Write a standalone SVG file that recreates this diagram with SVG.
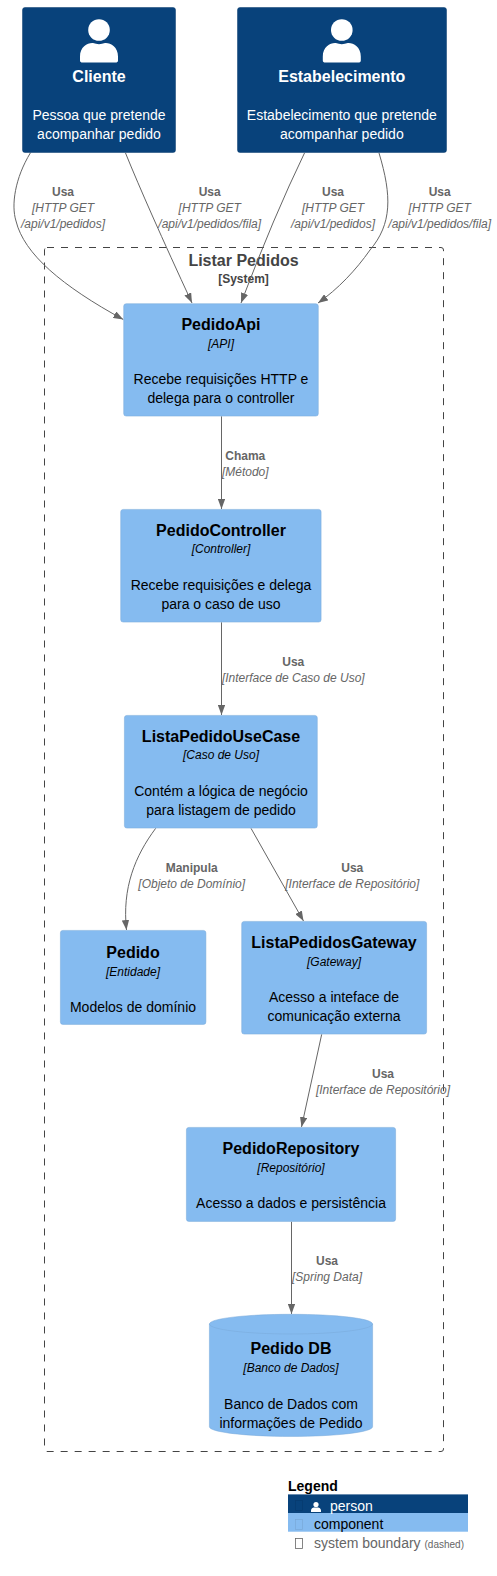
<svg xmlns="http://www.w3.org/2000/svg" width="497" height="1576" viewBox="0 0 497 1576">
<style>
text{font-family:"Liberation Sans",Arial,sans-serif;text-anchor:middle}
.box{fill:#85BBF0;stroke:#78A8D8;stroke-width:.5}
.person{fill:#08427B;stroke:#073B6F;stroke-width:.5}
.n{font-size:16px;font-weight:700;fill:#000}
.t{font-size:12px;font-style:italic;fill:#000}
.d{font-size:14px;fill:#000}
.w{fill:#fff}
.rl{font-size:12px;font-weight:700;fill:#666}
.rt{font-size:12px;font-style:italic;fill:#666}
.c{fill:none;stroke:#666;stroke-width:1;marker-end:url(#arrow)}
.lg{font-size:14px;text-anchor:start}
</style>
<defs>
<marker id="arrow" viewBox="0 0 10 7.4" refX="10" refY="3.7" markerWidth="10" markerHeight="7.4" markerUnits="userSpaceOnUse" orient="auto"><path d="M0 0L10 3.7L0 7.4z" fill="#666"/></marker>
<g id="icon"><circle cx="0" cy="-19.5" r="10.8"/><path d="M-19 11V7C-19-3-11-7-6-6.5C-2-5 2-5 6-6.5C11-7 19-3 19 7V11C19 12.5 18 13 16.5 13H-16.5C-18 13-19 12.5-19 11Z"/></g>
</defs>
<g id="boundary">
<rect x="44.5" y="247.5" width="399" height="1204" rx="2.5" fill="none" stroke="#444" stroke-width="1" stroke-dasharray="7 7"/>
<text x="243.5" y="266" font-size="16" font-weight="700" fill="#444">Listar Pedidos</text>
<text x="243.5" y="283" font-size="12" font-weight="700" fill="#444">[System]</text>
</g>
<g id="connectors">
<path class="c" d="M30.5 152.7C15 178 11 205 16 221C24 254 62 286 123.3 319.5"/>
<path class="c" d="M125.5 153Q147 206 192 303"/>
<path class="c" d="M304.5 153Q274 216 241 303"/>
<path class="c" d="M379 153C392 196 392 224 370 250C356 270 338 289 318 303"/>
<path class="c" d="M221.5 416.3V509"/>
<path class="c" d="M221.5 622.3V715"/>
<path class="c" d="M155.7 828.3C135 856 122 888 126.5 930"/>
<path class="c" d="M251 828.3L303.5 921"/>
<path class="c" d="M321.7 1034.3L301.5 1127"/>
<path class="c" d="M291.5 1221.7V1314"/>
</g>
<g id="rel-labels">
<text class="rl" x="63" y="195.7">Usa</text><text class="rt" x="63" y="211.7">[HTTP GET</text><text class="rt" x="63" y="227.7">/api/v1/pedidos]</text>
<text class="rl" x="209.7" y="195.7">Usa</text><text class="rt" x="209.7" y="211.7">[HTTP GET</text><text class="rt" x="209.7" y="227.7">/api/v1/pedidos/fila]</text>
<text class="rl" x="333" y="195.7">Usa</text><text class="rt" x="333" y="211.7">[HTTP GET</text><text class="rt" x="333" y="227.7">/api/v1/pedidos]</text>
<text class="rl" x="439.7" y="195.7">Usa</text><text class="rt" x="439.7" y="211.7">[HTTP GET</text><text class="rt" x="439.7" y="227.7">/api/v1/pedidos/fila]</text>
<text class="rl" x="245.3" y="460">Chama</text><text class="rt" x="245.3" y="476">[Método]</text>
<text class="rl" x="293.3" y="665.7">Usa</text><text class="rt" x="293.3" y="681.7">[Interface de Caso de Uso]</text>
<text class="rl" x="191.7" y="872">Manipula</text><text class="rt" x="191.7" y="888">[Objeto de Domínio]</text>
<text class="rl" x="352.3" y="872">Usa</text><text class="rt" x="352.3" y="888">[Interface de Repositório]</text>
<text class="rl" x="383" y="1077.7">Usa</text><text class="rt" x="383" y="1093.7">[Interface de Repositório]</text>
<text class="rl" x="327" y="1264.7">Usa</text><text class="rt" x="327" y="1280.7">[Spring Data]</text>
</g>
<g id="cliente">
<rect class="person" x="22.5" y="7.5" width="153" height="145" rx="2.5"/>
<use href="#icon" x="99" y="49.5" fill="#fff"/>
<text class="n w" x="99" y="82.3">Cliente</text>
<text class="d w" x="99" y="120">Pessoa que pretende</text>
<text class="d w" x="99" y="139">acompanhar pedido</text>
</g>
<g id="estabelecimento">
<rect class="person" x="237.5" y="7.5" width="209" height="145" rx="2.5"/>
<use href="#icon" x="341.8" y="49.5" fill="#fff"/>
<text class="n w" x="341.8" y="82.3">Estabelecimento</text>
<text class="d w" x="341.8" y="120">Estabelecimento que pretende</text>
<text class="d w" x="341.8" y="139">acompanhar pedido</text>
</g>
<g id="pedidoapi">
<rect class="box" x="123.7" y="303.7" width="194.6" height="112.4" rx="2.5"/>
<text class="n" x="221" y="330">PedidoApi</text>
<text class="t" x="221" y="347.5">[API]</text>
<text class="d" x="221" y="384">Recebe requisições HTTP e</text>
<text class="d" x="221" y="403">delega para o controller</text>
</g>
<g id="pedidocontroller">
<rect class="box" x="120.7" y="509.4" width="200.4" height="112.7" rx="2.5"/>
<text class="n" x="221" y="535.7">PedidoController</text>
<text class="t" x="221" y="553.2">[Controller]</text>
<text class="d" x="221" y="590">Recebe requisições e delega</text>
<text class="d" x="221" y="609">para o caso de uso</text>
</g>
<g id="listapedidousecase">
<rect class="box" x="124.4" y="715.4" width="192.9" height="112.7" rx="2.5"/>
<text class="n" x="221" y="741.7">ListaPedidoUseCase</text>
<text class="t" x="221" y="759.2">[Caso de Uso]</text>
<text class="d" x="221" y="796">Contém a lógica de negócio</text>
<text class="d" x="221" y="815">para listagem de pedido</text>
</g>
<g id="pedido">
<rect class="box" x="60.4" y="930.4" width="145.5" height="94" rx="2.5"/>
<text class="n" x="133" y="958">Pedido</text>
<text class="t" x="133" y="975.5">[Entidade]</text>
<text class="d" x="133" y="1012">Modelos de domínio</text>
</g>
<g id="listapedidosgateway">
<rect class="box" x="241.7" y="921.4" width="184.9" height="112.7" rx="2.5"/>
<text class="n" x="334" y="948">ListaPedidosGateway</text>
<text class="t" x="334" y="965.5">[Gateway]</text>
<text class="d" x="334" y="1002">Acesso a inteface de</text>
<text class="d" x="334" y="1021">comunicação externa</text>
</g>
<g id="pedidorepository">
<rect class="box" x="186.4" y="1127.4" width="209.2" height="94" rx="2.5"/>
<text class="n" x="291" y="1154">PedidoRepository</text>
<text class="t" x="291" y="1171.5">[Repositório]</text>
<text class="d" x="291" y="1208">Acesso a dados e persistência</text>
</g>
<g id="pedidodb">
<path class="box" d="M209.4 1324C209.4 1318.5 245.7 1314.3 291 1314.3S372.6 1318.5 372.6 1324V1426.7C372.6 1432.2 336.3 1436.4 291 1436.4S209.4 1432.2 209.4 1426.7Z"/>
<path d="M209.4 1324C209.4 1329.5 245.7 1334 291 1334S372.6 1329.5 372.6 1324" fill="none" stroke="#78A8D8" stroke-width=".5"/>
<text class="n" x="291" y="1354">Pedido DB</text>
<text class="t" x="291" y="1372">[Banco de Dados]</text>
<text class="d" x="291" y="1409">Banco de Dados com</text>
<text class="d" x="291" y="1428">informações de Pedido</text>
</g>
<g id="legend">
<text x="288" y="1490.7" font-size="14" font-weight="700" fill="#000" style="text-anchor:start">Legend</text>
<rect x="288" y="1494.4" width="180" height="18.6" fill="#08427B"/>
<rect x="288" y="1513" width="180" height="18.7" fill="#85BBF0"/>
<rect x="295.5" y="1500.5" width="7" height="10" fill="none" stroke="#073B6F" stroke-width=".7"/>
<rect x="295.5" y="1519.5" width="7" height="10" fill="none" stroke="#78A8D8" stroke-width=".7"/>
<rect x="295.5" y="1538.5" width="7" height="10" fill="none" stroke="#666" stroke-width=".8"/>
<circle cx="316" cy="1504.5" r="2.6" fill="#fff"/>
<path d="M311 1512V1510.5C311 1508.5 313 1507.5 314 1507.6H318C319 1507.5 321 1508.5 321 1510.5V1512Z" fill="#fff"/>
<text class="lg" x="330" y="1510.7" fill="#fff">person</text>
<text class="lg" x="314" y="1528.5" fill="#000">component</text>
<text class="lg" x="314" y="1547.5" fill="#666">system boundary <tspan font-size="10">(dashed)</tspan></text>
</g>
</svg>
